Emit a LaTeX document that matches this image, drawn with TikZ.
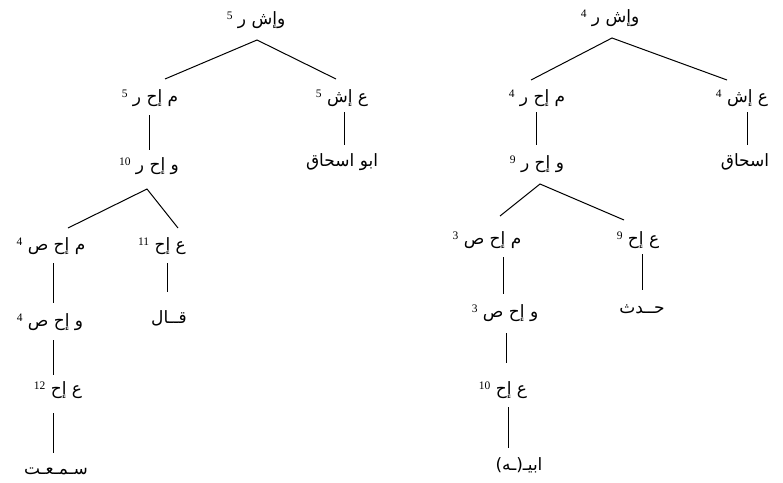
\documentclass[tikz,border=0pt]{standalone}
\usepackage{fontspec}
\newfontfamily\arabicfont[Script=Arabic]{DejaVu Sans}
\newfontfamily\numfont{Liberation Serif}
\TeXXeTstate=1
\newcommand{\nm}[1]{\raisebox{4.5pt}{\numfont\fontsize{11.5}{12}\selectfont #1}}
\tikzset{
  lbl/.style={inner sep=0pt, font=\arabicfont\fontsize{17}{19}\selectfont},
  br/.style={line width=1pt}
}
\begin{document}
\begin{tikzpicture}[x=1pt,y=-1pt]
\useasboundingbox (0,0) rectangle (783,482);
% ---------------- left tree ----------------
\node[lbl] (r1) at (256,20) {\beginR وإش ر \nm{5}\endR};
\node[lbl] (c1) at (150,98) {\beginR م إح ر \nm{5}\endR};
\node[lbl] (c2) at (342,98) {\beginR ع إش \nm{5}\endR};
\node[lbl] (n1) at (149,166) {\beginR و إح ر \nm{10}\endR};
\node[lbl] (n2) at (51,246) {\beginR م إح ص \nm{4}\endR};
\node[lbl] (n3) at (162,246) {\beginR ع إح \nm{11}\endR};
\node[lbl] (n4) at (50,322) {\beginR و إح ص \nm{4}\endR};
\node[lbl] (n5) at (58,390) {\beginR ع إح \nm{12}\endR};
\node[lbl] (l1) at (56,471) {\beginR سـمـعـت\endR};
\node[lbl] (l2) at (169,318) {\beginR قــال\endR};
\node[lbl] (l3) at (342,162) {\beginR ابو اسحاق\endR};
\coordinate (a1) at (257,40);
\coordinate (c1t) at (165,79);
\coordinate (c2t) at (336,79);
\coordinate (c1b) at (149,115);
\coordinate (n1t) at (149,150);
\coordinate (a2) at (147,189);
\coordinate (n2t) at (68,228);
\coordinate (n3t) at (178,228);
\coordinate (n2b) at (53,263);
\coordinate (n4t) at (53,303);
\coordinate (n4b) at (53,340);
\coordinate (n5t) at (53,375);
\coordinate (n5b) at (53,413);
\coordinate (l1t) at (53,453);
\coordinate (n3b) at (167,263);
\coordinate (l2t) at (167,292);
\coordinate (c2b) at (344,112);
\coordinate (l3t) at (344,145);
\draw[br] (c1t) -- (a1) -- (c2t);
\draw[br] (c1b) -- (n1t);
\draw[br] (n2t) -- (a2) -- (n3t);
\draw[br] (n2b) -- (n4t);
\draw[br] (n4b) -- (n5t);
\draw[br] (n5b) -- (l1t);
\draw[br] (n3b) -- (l2t);
\draw[br] (c2b) -- (l3t);
% ---------------- right tree ----------------
\node[lbl] (r2) at (610,18) {\beginR وإش ر \nm{4}\endR};
\node[lbl] (d1) at (537,98) {\beginR م إح ر \nm{4}\endR};
\node[lbl] (d2) at (742,98) {\beginR ع إش \nm{4}\endR};
\node[lbl] (m1) at (537,164) {\beginR و إح ر \nm{9}\endR};
\node[lbl] (m2) at (487,240) {\beginR م إح ص \nm{3}\endR};
\node[lbl] (m3) at (638,240) {\beginR ع إح \nm{9}\endR};
\node[lbl] (m4) at (505,313) {\beginR و إح ص \nm{3}\endR};
\node[lbl] (m5) at (503,390) {\beginR ع إح \nm{10}\endR};
\node[lbl] (k1) at (519,465) {\beginR ابيـ(ـه)\endR};
\node[lbl] (k2) at (642,309) {\beginR حــدث\endR};
\node[lbl] (k3) at (745,162) {\beginR اسحاق\endR};
\coordinate (b1) at (612,38);
\coordinate (d1t) at (531,80);
\coordinate (d2t) at (727,80);
\coordinate (d1b) at (536,112);
\coordinate (m1t) at (536,145);
\coordinate (b2) at (540,184);
\coordinate (m2t) at (500,216);
\coordinate (m3t) at (624,220);
\coordinate (m2b) at (503,257);
\coordinate (m4t) at (503,294);
\coordinate (m4b) at (506,333);
\coordinate (m5t) at (506,363);
\coordinate (m5b) at (508,407);
\coordinate (k1t) at (508,448);
\coordinate (m3b) at (642,254);
\coordinate (k2t) at (642,290);
\coordinate (d2b) at (747,112);
\coordinate (k3t) at (747,145);
\draw[br] (d1t) -- (b1) -- (d2t);
\draw[br] (d1b) -- (m1t);
\draw[br] (m2t) -- (b2) -- (m3t);
\draw[br] (m2b) -- (m4t);
\draw[br] (m4b) -- (m5t);
\draw[br] (m5b) -- (k1t);
\draw[br] (m3b) -- (k2t);
\draw[br] (d2b) -- (k3t);
\end{tikzpicture}
\end{document}
